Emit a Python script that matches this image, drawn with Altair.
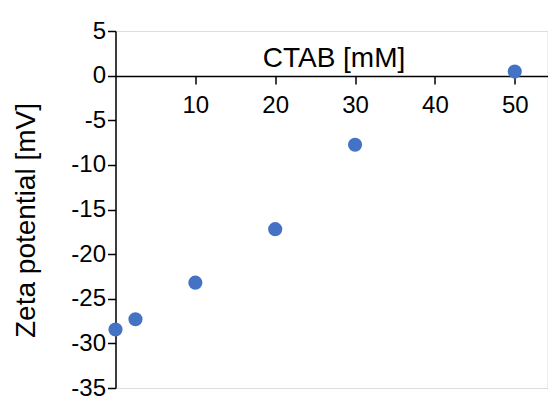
import altair as alt
import pandas as pd

ctab = [0, 2.5, 10, 20, 30, 50]
zeta = [-28.45, -27.3, -23.2, -17.2, -7.75, 0.45]
x_ticks = [10, 20, 30, 40, 50]
y_ticks = [5, 0, -5, -10, -15, -20, -25, -30, -35]

df = pd.DataFrame({"ctab": ctab, "zeta": zeta})

W, H = 432, 357
FONT = "Liberation Sans"

chart = alt.Chart(df).mark_circle(size=200, opacity=1, color="#4472C4").encode(
    x=alt.X("ctab:Q",
            scale=alt.Scale(domain=[0, 54.1], nice=False, zero=False),
            axis=alt.Axis(orient="bottom", offset=-312, values=x_ticks,
                          title="CTAB [mM]", grid=False, domain=True,
                          domainColor="black", domainWidth=1.5,
                          tickColor="black", tickWidth=1.5, tickSize=8,
                          labelFont=FONT, labelFontSize=24, labelColor="black",
                          labelPadding=9, labelExpr="'' + datum.value",
                          titleFont=FONT, titleFontSize=28, titleFontWeight="normal",
                          titleColor="black", titleY=-10, titleX=218,
                          titleAlign="center", titleBaseline="alphabetic")),
    y=alt.Y("zeta:Q",
            scale=alt.Scale(domain=[-35, 5], nice=False, zero=False),
            axis=alt.Axis(values=y_ticks, title="Zeta potential [mV]", grid=False,
                          domainColor="black", domainWidth=1.5,
                          tickColor="black", tickWidth=1.5, tickSize=8,
                          labelFont=FONT, labelFontSize=24, labelColor="black",
                          labelPadding=2, labelExpr="'' + datum.value",
                          titleFont=FONT, titleFontSize=28, titleFontWeight="normal",
                          titleColor="black", titleAngle=-90, titleX=-89,
                          titleY=189, titleAlign="center", titleBaseline="middle")),
).properties(
    width=W, height=H,
    autosize=alt.AutoSizeParams(type="none"),
    padding={"left": 115.5, "top": 31, "right": 0, "bottom": 9},
).configure_view(stroke=None).configure(background="white")

chart.save("out.html", embed_options={"renderer": "svg", "actions": False})
